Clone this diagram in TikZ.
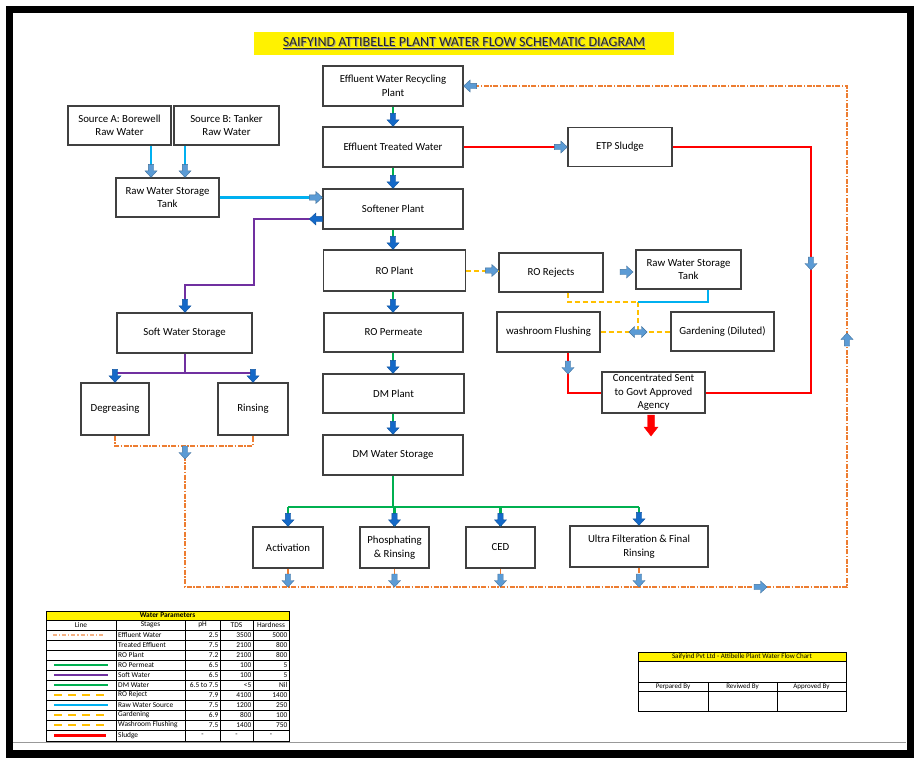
\documentclass[tikz,border=0pt]{standalone}
\usepackage{fontspec}
\setmainfont{Carlito}
\usetikzlibrary{calc}
\definecolor{gr}{RGB}{0,176,80}
\definecolor{pu}{RGB}{112,48,160}
\definecolor{lb}{RGB}{0,176,240}
\definecolor{rd}{RGB}{255,0,0}
\definecolor{orn}{RGB}{237,125,49}
\definecolor{lorn}{RGB}{244,177,131}
\definecolor{yl}{RGB}{255,192,0}
\definecolor{dkb}{RGB}{20,105,200}
\definecolor{ltb}{RGB}{91,155,213}
\definecolor{ltbd}{RGB}{65,113,156}
\definecolor{boxc}{RGB}{64,64,64}
\tikzset{
  barrow/.pic={\path[pic actions] (0,0) -- (-6,-6.5) -- (-2.7,-6.5) -- (-2.7,-13) -- (2.7,-13) -- (2.7,-6.5) -- (6,-6.5) -- cycle;},
  dbarrow/.pic={\path[pic actions] (-9,0) -- (-3.5,-5.5) -- (-3.5,-2.5) -- (3.5,-2.5) -- (3.5,-5.5) -- (9,0) -- (3.5,5.5) -- (3.5,2.5) -- (-3.5,2.5) -- (-3.5,5.5) -- cycle;},
  bigarrow/.pic={\path[pic actions] (0,0) -- (-7,-9) -- (-3.5,-9) -- (-3.5,-21) -- (3.5,-21) -- (3.5,-9) -- (7,-9) -- cycle;},
  box/.style={draw=boxc, line width=1.3pt, fill=white, align=center, inner sep=1pt,
    font=\fontsize{10.8}{13.5}\selectfont, text=black},
  sz/.style 2 args={minimum width=#1pt, minimum height=#2pt},
  gline/.style={draw=gr, line width=2.6pt},
  pline/.style={draw=pu, line width=2.6pt},
  bline/.style={draw=lb, line width=2.6pt},
  rline/.style={draw=rd, line width=2pt},
  oline/.style={draw=orn, line width=1.8pt, dash pattern=on 5pt off 1.5pt on 1.5pt off 1.5pt},
  yline/.style={draw=yl, line width=2pt, dash pattern=on 5pt off 3pt},
  darr/.style={fill=dkb, draw=dkb!80!black, line width=0.4pt},
  larr/.style={fill=ltb, draw=ltbd, line width=0.4pt},
  redarr/.style={fill=rd, draw=rd},
  lgt/.style={font=\fontsize{7.4}{8}\selectfont, inner sep=0.5pt},
  sgt/.style={font=\fontsize{7}{8}\selectfont, inner sep=0.5pt},
}
\begin{document}
\begin{tikzpicture}[x=1pt,y=-1pt]
\useasboundingbox (0,0) rectangle (920,763);
\fill[white] (0,0) rectangle (920,763);
% frame
\draw[black!40, line width=0.8pt] (13,742) -- (906,742);
\draw[black, line width=7.5pt] (9.5,9.5) rectangle (910.5,754);

% title
\node[fill=yellow, minimum width=420pt, minimum height=23pt, inner sep=0] (titbg) at (464,43.5) {};
\node[font=\fontsize{14}{16}\selectfont, text=black!40] (titsh) at (465,44.5) {\underline{SAIFYIND ATTIBELLE PLANT WATER FLOW SCHEMATIC DIAGRAM}};
\node[font=\fontsize{14}{16}\selectfont, text=black!85] (title) at (464,43.5) {\underline{SAIFYIND ATTIBELLE PLANT WATER FLOW SCHEMATIC DIAGRAM}};

% boxes
\node[box, sz={140}{40}] (eff) at (393,86) {Effluent Water Recycling\\Plant};
\node[box, sz={140}{40}] (etw) at (393,147) {Effluent Treated Water};
\node[box, sz={104}{39}] (etp) at (620,147) {ETP Sludge};
\node[box, sz={103}{39}] (srcA) at (119.5,125.5) {Source A: Borewell\\Raw Water};
\node[box, sz={105}{39}] (srcB) at (226.5,125.5) {Source B: Tanker\\Raw Water};
\node[box, sz={103}{39}] (rwl) at (167.5,197.5) {Raw Water Storage\\Tank};
\node[box, sz={140}{40}] (soft) at (393,209) {Softener Plant};
\node[box, sz={142}{41}] (ro) at (394.5,270.5) {RO Plant};
\node[box, sz={139}{39}] (rop) at (393.5,332.5) {RO Permeate};
\node[box, sz={141}{39}] (dm) at (393.5,393.5) {DM Plant};
\node[box, sz={140}{40}] (dms) at (393,455) {DM Water Storage};
\node[box, sz={104}{39}] (rorej) at (551,272.5) {RO Rejects};
\node[box, sz={105}{39}] (rwr) at (688.5,269.5) {Raw Water Storage\\Tank};
\node[box, sz={103}{40}] (wash) at (548.5,332) {washroom Flushing};
\node[box, sz={103}{39}] (gard) at (722.5,331.5) {Gardening (Diluted)};
\node[box, sz={103}{41}, inner sep=0pt] (conc) at (653.5,392.5) {Concentrated Sent\\to Govt Approved\\Agency};
\node[box, sz={135}{40}] (sws) at (184.5,333) {Soft Water Storage};
\node[box, sz={68}{52}] (deg) at (115,409) {Degreasing};
\node[box, sz={70}{52}] (rins) at (253,409) {Rinsing};
\node[box, sz={70}{41}] (act) at (288,547.5) {Activation};
\node[box, sz={69}{41}] (phos) at (394.5,547.5) {Phosphating\\\& Rinsing};
\node[box, sz={69}{41}] (ced) at (500.5,547.5) {CED};
\node[box, sz={138}{41}] (ultra) at (639,546.5) {Ultra Filteration \& Final\\Rinsing};

% helper coordinates
\coordinate (cx) at (393,0);
\coordinate (gsplit) at (393,507);
\coordinate (oj) at (185,446);
\coordinate (obot) at (185,587);
\coordinate (oright) at (847,0);
\coordinate (rx) at (811,0);
\coordinate (wx) at (568,0);
\coordinate (yj) at (638,302);
\coordinate (bx) at (708,0);
\coordinate (ax) at (151,0);
\coordinate (bx2) at (185,0);
\coordinate (p1) at (254,219);
\coordinate (p2) at (185,285);
\coordinate (sj) at (185,373);

% orange effluent return lines
\draw[oline] (deg.south) -- (deg.south |- oj) -- (rins.south |- oj) -- (rins.south);
\draw[oline] (oj) -- (obot) -- (obot -| oright) -- (eff.east -| oright) -- (eff.east);
\foreach \b in {act,phos,ced,ultra}{
  \draw[oline] (\b.south) -- (\b.south |- obot);
}

% green main chain
\foreach \a/\b in {eff/etw, etw/soft, soft/ro, ro/rop, rop/dm, dm/dms}{
  \draw[gline] (\a.south -| cx) -- (\b.north -| cx);
}
\draw[gline] (dms.south -| cx) -- (gsplit);
\draw[gline] (act.north |- gsplit) -- (ultra.north |- gsplit);
\foreach \b in {act,phos,ced,ultra}{
  \draw[gline] (\b.north |- gsplit) -- (\b.north);
}

% red sludge lines
\draw[rline] (etw.east) -- (etp.west);
\draw[rline] (etp.east) -- (etp.east -| rx) -- (conc.east -| rx) -- (conc.east);
\draw[rline] (wash.south -| wx) -- (conc.west -| wx) -- (conc.west);

% yellow RO reject lines
\draw[yline] (ro.east) -- (ro.east -| rorej.west);
\draw[yline] (rorej.south -| wx) -- (wx |- yj) -- (yj);
\draw[yline] (yj) -- (yj |- wash.east);
\draw[yline] (wash.east) -- (wash.east -| gard.west);
\draw[bline] (yj) -- (yj -| bx) -- (rwr.south -| bx);

% raw water lines
\draw[bline] (srcA.south -| ax) -- (rwl.north -| ax);
\draw[bline] (srcB.south -| bx2) -- (rwl.north -| bx2);
\draw[bline] (rwl.east) -- (rwl.east -| soft.west);

% purple soft water lines
\draw[pline] (soft.west |- p1) -- (p1) -- (p1 |- p2) -- (p2) -- (sws.north -| p2);
\draw[pline] (sws.south -| sj) -- (sj);
\draw[pline] (sj -| deg.north) -- (sj -| rins.north);
\draw[pline] (sj -| deg.north) -- (deg.north);
\draw[pline] (sj -| rins.north) -- (rins.north);

% arrows
\foreach \b in {etw, soft, ro, rop, dm, dms}{
  \pic[darr] at (\b.north -| cx) {barrow};
}
\foreach \b in {act,phos,ced,ultra}{
  \pic[darr] at (\b.north) {barrow};
  \pic[larr] at (\b.south |- obot) {barrow};
}
\pic[larr] at (185,459) {barrow};
\pic[larr, rotate=90] at (767,587) {barrow};
\pic[larr, rotate=180] at (847,333) {barrow};
\pic[larr, rotate=-90] at (eff.east) {barrow};
\pic[larr, rotate=90] at (etp.west) {barrow};
\pic[larr] at (811,270) {barrow};
\pic[larr] at (568,374) {barrow};
\pic[redarr] at (651,436) {bigarrow};
\pic[larr, rotate=90] at (ro.east -| rorej.west) {barrow};
\pic[larr, rotate=90] at (633,272) {barrow};
\pic[larr] at (yj |- wash.east) {dbarrow};
\pic[larr] at (rwl.north -| ax) {barrow};
\pic[larr] at (rwl.north -| bx2) {barrow};
\pic[larr, rotate=90] at (rwl.east -| soft.west) {barrow};
\pic[darr, rotate=-90] at ($(soft.west |- p1)+(-13,0)$) {barrow};
\pic[darr] at (sws.north -| p2) {barrow};
\pic[darr] at (deg.north) {barrow};
\pic[darr] at (rins.north) {barrow};

% legend table
\fill[yellow] (46,611) rectangle (289,620);
\foreach \yy in {620,630,...,730}{
  \draw[black, line width=0.5pt] (46,\yy) -- (289,\yy);
}
\foreach \xx in {116,185,220,253}{
  \draw[black, line width=0.5pt] (\xx,620) -- (\xx,741);
}
\draw[black, line width=0.9pt] (46,611) rectangle (289,741);
\node[lgt, font=\fontsize{7.4}{8}\selectfont\bfseries] (lgtitle) at (167.5,615.5) {Water Parameters};
\node[lgt] (lgh1) at (81,625) {Line};
\node[lgt] (lgh2) at (150.5,625) {Stages};
\node[lgt] (lgh3) at (202.5,625) {pH};
\node[lgt] (lgh4) at (236.5,625) {TDS};
\node[lgt] (lgh5) at (271,625) {Hardness};
\foreach \i/\st/\ph/\td/\hd in {0/Effluent Water/2.5/3500/5000, 1/Treated Effluent/7.5/2100/800,
  2/RO Plant/7.2/2100/800, 3/RO Permeat/6.5/100/5, 4/Soft Water/6.5/100/5,
  5/DM Water/6.5 to 7.5/<5/Nil, 6/RO Reject/7.9/4100/1400, 7/Raw Water Source/7.5/1200/250,
  8/Gardening/6.9/800/100, 9/Washroom Flushing/7.5/1400/750}{
  \node[lgt, anchor=west] (lgs\i) at (117.5,635+10*\i) {\st};
  \node[lgt, anchor=east] (lgp\i) at (219,635+10*\i) {\ph};
  \node[lgt, anchor=east] (lgt\i) at (252,635+10*\i) {\td};
  \node[lgt, anchor=east] (lgd\i) at (288,635+10*\i) {\hd};
}
\node[lgt, anchor=west] (lgs10) at (117.5,735.5) {Sludge};
\node[lgt] (lgp10) at (202.5,735.5) {-};
\node[lgt] (lgt10) at (236.5,735.5) {-};
\node[lgt] (lgd10) at (271,735.5) {-};
% legend line samples
\draw[draw=lorn, line width=1.2pt, dash pattern=on 4pt off 2pt on 1.2pt off 2pt] (53,635) -- (104,635);
\draw[gr, line width=2.6pt] (54,665) -- (108,665);
\draw[pu, line width=2.6pt] (54,675) -- (108,675);
\draw[gr, line width=2.6pt] (54,685) -- (108,685);
\draw[yl, line width=2.2pt, dash pattern=on 8pt off 6pt] (54,695) -- (108,695);
\draw[lb, line width=2.6pt] (54,705) -- (108,705);
\draw[yl, line width=2.2pt, dash pattern=on 8pt off 6pt] (54,715) -- (108,715);
\draw[yl, line width=2.2pt, dash pattern=on 8pt off 6pt] (54,725) -- (108,725);
\draw[rd, line width=2.6pt] (54,735.5) -- (106,735.5);

% signature table
\fill[yellow] (638,652) rectangle (846,661);
\draw[black, line width=0.5pt] (638,661) -- (846,661);
\draw[black, line width=0.5pt] (638,682) -- (846,682);
\draw[black, line width=0.5pt] (638,691) -- (846,691);
\draw[black, line width=0.5pt] (708,682) -- (708,711);
\draw[black, line width=0.5pt] (777,682) -- (777,711);
\draw[black, line width=0.9pt] (638,652) rectangle (846,711);
\node[sgt] (sgtitle) at (742,656.5) {Saifyind Pvt Ltd - Attibelle Plant Water Flow Chart};
\node[sgt] (sg1) at (673,686.5) {Perpared By};
\node[sgt] (sg2) at (742.5,686.5) {Reviwed By};
\node[sgt] (sg3) at (811.5,686.5) {Approved By};
\end{tikzpicture}
\end{document}
